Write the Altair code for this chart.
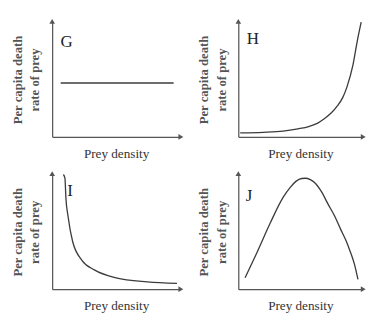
import altair as alt
import pandas as pd

# ---- data ----
panel_names = ["G", "H", "I", "J"]

g_x = [0.66, 9.5]
g_y = [4.7, 4.7]

h_x = [0.15, 2.0, 3.6, 4.8, 5.67, 6.4, 6.92, 7.5, 7.98, 8.4, 8.75, 9.23, 9.6, 9.9]
h_y = [0.35, 0.4, 0.5, 0.7, 0.9, 1.2, 1.58, 2.1, 2.7, 3.4, 4.34, 6.23, 8.44, 10.0]

i_x = [0.88, 1.0, 1.07, 1.24, 1.6, 2.34, 3.3, 5.0, 7.45, 9.76]
i_y = [10.0, 9.67, 8.0, 6.36, 4.16, 2.5, 1.68, 0.99, 0.64, 0.5]

j_x = [0.54, 1.56, 2.59, 3.62, 4.2, 4.64, 5.1, 5.41, 5.8, 6.18, 6.7, 7.21, 7.75, 8.23, 8.65, 9.0, 9.35, 9.64]
j_y = [0.99, 3.33, 5.81, 8.02, 8.9, 9.4, 9.65, 9.67, 9.55, 9.26, 8.5, 7.46, 6.4, 5.26, 4.3, 3.33, 2.2, 0.85]

letter_x = [0.66, 0.67, 1.17, 0.6]
letter_y = [9.0, 9.26, 9.26, 8.84]

arrow_x = [0.0, 10.0]
arrow_y = [10.0, 0.0]
arrow_angle = [0, 90]

y_title = ["Per capita death", "rate of prey"]
x_title = "Prey density"

FONT = "Liberation Serif"
INK = "#3c3c3c"
AX = "#555555"


def panel(xs, ys, letter, lx, ly, width, height=122):
    xsc = alt.Scale(domain=[0, 10], nice=False, zero=True)
    ysc = alt.Scale(domain=[0, 10], nice=False, zero=True)
    xax = alt.Axis(title=x_title, titleFontWeight="normal", titleFontSize=14,
                   titlePadding=11, titleColor="#333333", titleFont=FONT)
    yax = alt.Axis(title=y_title, titleFontWeight="bold", titleFontSize=13.5,
                   titlePadding=11, titleLineHeight=19, titleColor="#555555",
                   titleFont=FONT)
    df = pd.DataFrame({"x": xs, "y": ys})
    line = alt.Chart(df).mark_line(color=INK, strokeWidth=1.4,
                                   interpolate="monotone").encode(
        x=alt.X("x:Q", scale=xsc, axis=xax),
        y=alt.Y("y:Q", scale=ysc, axis=yax),
    )
    lab = alt.Chart(pd.DataFrame({"x": [lx], "y": [ly], "t": [letter]})).mark_text(
        align="left", baseline="top", font=FONT, fontSize=18, color="#222"
    ).encode(x="x:Q", y="y:Q", text="t:N")
    arrows = alt.Chart(pd.DataFrame({"ax": arrow_x, "ay": arrow_y, "ang": arrow_angle})).mark_point(
        shape="triangle", filled=True, size=36, color=AX, opacity=1, clip=False
    ).encode(
        x=alt.X("ax:Q", scale=xsc),
        y=alt.Y("ay:Q", scale=ysc),
        angle=alt.Angle("ang:Q", scale=None),
    )
    return alt.layer(line, lab, arrows).properties(width=width, height=height)


G = panel(g_x, g_y, panel_names[0], letter_x[0], letter_y[0], 136)
H = panel(h_x, h_y, panel_names[1], letter_x[1], letter_y[1], 132)
I = panel(i_x, i_y, panel_names[2], letter_x[2], letter_y[2], 136)
J = panel(j_x, j_y, panel_names[3], letter_x[3], letter_y[3], 132)

chart = alt.vconcat(
    alt.hconcat(G, H, spacing=14),
    alt.hconcat(I, J, spacing=14),
    spacing=11,
).properties(padding={"left": 3, "right": 3, "top": 1, "bottom": 3}).configure_axis(
    domainColor=AX, domainWidth=1.3, ticks=False, labels=False, grid=False
).configure_view(stroke=None)

chart.save("out.html", embed_options={"renderer": "svg", "actions": False})
